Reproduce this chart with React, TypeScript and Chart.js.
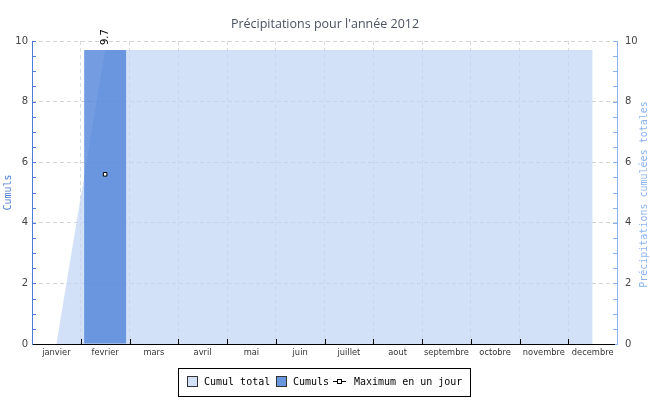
import React, { useEffect, useRef } from "react";
import { Chart, registerables } from "chart.js";

Chart.register(...registerables);

const months = ["janvier", "fevrier", "mars", "avril", "mai", "juin", "juillet", "aout", "septembre", "octobre", "novembre", "decembre"];
const cumulTotal = [0, 9.7, 9.7, 9.7, 9.7, 9.7, 9.7, 9.7, 9.7, 9.7, 9.7, 9.7];
const cumuls = [0, 9.7, 0, 0, 0, 0, 0, 0, 0, 0, 0, 0];
const maxJour: (number | null)[] = [null, 5.6, null, null, null, null, null, null, null, null, null, null];
const yTicks = { min: 0, max: 10, step: 2, minor: 0.5 };

const TITLE = "Précipitations pour l'année 2012";
const LEFT_TITLE = "Cumuls";
const RIGHT_TITLE = "Précipitations cumulées totales";
const LEGEND = ["Cumul total", "Cumuls", "Maximum en un jour"];

const AREA = "rgba(191,211,245,0.7)";
const AREA_SOLID = "rgb(210,224,248)";
const BAR = "rgba(77,130,217,0.78)";
const BAR_SOLID = "rgb(106,150,222)";
const LEFT_AXIS = "rgb(75,125,215)";
const RIGHT_AXIS = "rgb(140,178,240)";
const MONO = '10px "DejaVu Sans Mono"';

const decor = {
  id: "decor",
  afterDraw(chart: any) {
    const ctx = chart.ctx as CanvasRenderingContext2D;
    const ca = chart.chartArea;
    const y = chart.scales.y;
    const x = chart.scales.x;
    ctx.save();
    // title
    ctx.fillStyle = "#4a5262";
    ctx.font = '12.5px "Open Sans"';
    ctx.textAlign = "center";
    ctx.textBaseline = "middle";
    ctx.fillText(TITLE, 325, 24);

    // left axis
    ctx.strokeStyle = LEFT_AXIS;
    ctx.lineWidth = 1;
    ctx.beginPath();
    ctx.moveTo(ca.left + 0.5, ca.top);
    ctx.lineTo(ca.left + 0.5, ca.bottom);
    for (let v = yTicks.min; v <= yTicks.max + 1e-9; v += yTicks.minor) {
      const py = Math.round(y.getPixelForValue(v)) + 0.5;
      ctx.moveTo(ca.left, py);
      ctx.lineTo(ca.left + 4, py);
    }
    ctx.stroke();
    // right axis
    ctx.strokeStyle = RIGHT_AXIS;
    ctx.beginPath();
    ctx.moveTo(ca.right + 0.5, ca.top);
    ctx.lineTo(ca.right + 0.5, ca.bottom + 1);
    for (let v = yTicks.min; v <= yTicks.max + 1e-9; v += yTicks.minor) {
      const py = Math.round(y.getPixelForValue(v)) + 0.5;
      ctx.moveTo(ca.right - 4, py);
      ctx.lineTo(ca.right + 1, py);
    }
    ctx.stroke();
    // x axis
    ctx.strokeStyle = "#000";
    ctx.beginPath();
    ctx.moveTo(ca.left + 1, ca.bottom + 0.5);
    ctx.lineTo(ca.right - 2, ca.bottom + 0.5);
    for (let i = 1; i < months.length; i++) {
      const px = Math.round((x.getPixelForValue(i - 1) + x.getPixelForValue(i)) / 2) + 0.5;
      ctx.moveTo(px, ca.bottom - 5);
      ctx.lineTo(px, ca.bottom);
    }
    ctx.stroke();

    // axis titles
    ctx.font = MONO;
    ctx.fillStyle = LEFT_AXIS;
    ctx.save();
    ctx.translate(8, (ca.top + ca.bottom) / 2);
    ctx.rotate(-Math.PI / 2);
    ctx.fillText(LEFT_TITLE, 0, 0);
    ctx.restore();
    ctx.fillStyle = RIGHT_AXIS;
    ctx.save();
    ctx.translate(644, (ca.top + ca.bottom) / 2 + 2);
    ctx.rotate(-Math.PI / 2);
    ctx.fillText(RIGHT_TITLE, 0, 0);
    ctx.restore();

    // value label above bar
    const barMeta = chart.getDatasetMeta(1);
    cumuls.forEach((v, i) => {
      if (!v) return;
      const el = barMeta.data[i];
      ctx.save();
      ctx.translate(el.x, el.y - 5);
      ctx.rotate(-Math.PI / 2);
      ctx.fillStyle = "#000";
      ctx.font = '10px "DejaVu Sans"';
      ctx.textAlign = "left";
      ctx.textBaseline = "middle";
      ctx.fillText(String(v), 0, 0);
      ctx.restore();
    });

    // legend
    ctx.strokeStyle = "#000";
    ctx.strokeRect(178.5, 368.5, 292, 28);
    ctx.font = MONO;
    ctx.textAlign = "left";
    ctx.textBaseline = "middle";
    const ly = 382;
    ctx.fillStyle = AREA_SOLID;
    ctx.fillRect(187.5, 376.5, 10, 10);
    ctx.strokeStyle = "#333";
    ctx.strokeRect(187.5, 376.5, 10, 10);
    ctx.fillStyle = "#000";
    ctx.fillText(LEGEND[0], 204, ly);
    ctx.fillStyle = BAR_SOLID;
    ctx.fillRect(276.5, 376.5, 10, 10);
    ctx.strokeRect(276.5, 376.5, 10, 10);
    ctx.fillStyle = "#000";
    ctx.fillText(LEGEND[1], 293, ly);
    ctx.strokeStyle = "#000";
    ctx.beginPath();
    ctx.moveTo(333, 381.5);
    ctx.lineTo(346, 381.5);
    ctx.stroke();
    ctx.fillStyle = "#fff";
    ctx.fillRect(337.5, 379.5, 4, 4);
    ctx.strokeRect(337.5, 379.5, 4, 4);
    ctx.fillStyle = "#000";
    ctx.fillText(LEGEND[2], 354, ly);
    ctx.restore();
  },
};

export default function App() {
  const ref = useRef<HTMLCanvasElement>(null);
  useEffect(() => {
    if (!ref.current) return;
    const chart = new Chart(ref.current, {
      type: "bar",
      data: {
        labels: months,
        datasets: [
          {
            type: "line",
            label: LEGEND[2],
            data: maxJour,
            showLine: false,
            pointStyle: "rect",
            pointRadius: 2.5,
            pointBackgroundColor: "#fff",
            pointBorderColor: "#000",
            pointBorderWidth: 1,
            yAxisID: "y",
            order: 0,
          } as any,
          {
            type: "bar",
            label: LEGEND[1],
            data: cumuls,
            backgroundColor: BAR,
            borderWidth: 0,
            barPercentage: 0.86,
            categoryPercentage: 1,
            yAxisID: "y",
            order: 1,
          },
          {
            type: "line",
            label: LEGEND[0],
            data: cumulTotal,
            fill: "origin",
            backgroundColor: AREA,
            borderWidth: 0,
            pointRadius: 0,
            tension: 0,
            yAxisID: "y2",
            order: 2,
          } as any,
        ],
      },
      options: {
        responsive: false,
        animation: false,
        layout: { padding: { top: 41, left: 0, right: 0, bottom: 0 } },
        plugins: { legend: { display: false }, title: { display: false }, tooltip: { enabled: false } },
        scales: {
          x: {
            offset: true,
            grid: { offset: true, color: "#dcdcdc", drawTicks: false },
            border: { display: false, dash: [4, 3] },
            ticks: { font: { family: "DejaVu Sans", size: 8.3 }, color: "#333", padding: 4, maxRotation: 0, autoSkip: false },
            afterFit: (s: any) => { s.height = 56; },
          },
          y: {
            position: "left",
            min: yTicks.min,
            max: yTicks.max,
            ticks: { stepSize: yTicks.step, font: { family: "DejaVu Sans", size: 10 }, color: "#444", padding: 4 },
            grid: { color: "#d4d4d4", drawTicks: false },
            border: { display: false, dash: [4, 3] },
            afterFit: (s: any) => { s.width = 32; },
          },
          y2: {
            position: "right",
            min: yTicks.min,
            max: yTicks.max,
            ticks: { stepSize: yTicks.step, font: { family: "DejaVu Sans", size: 10 }, color: "#444", padding: 8 },
            grid: { display: false, drawTicks: false },
            border: { display: false },
            afterFit: (s: any) => { s.width = 33; },
          },
        },
      },
      plugins: [decor],
    });
    return () => chart.destroy();
  }, []);
  return (
    <div style={{ position: "absolute", left: 0, top: 0, width: 650, height: 400 }}>
      <canvas ref={ref} width={650} height={400} />
    </div>
  );
}
